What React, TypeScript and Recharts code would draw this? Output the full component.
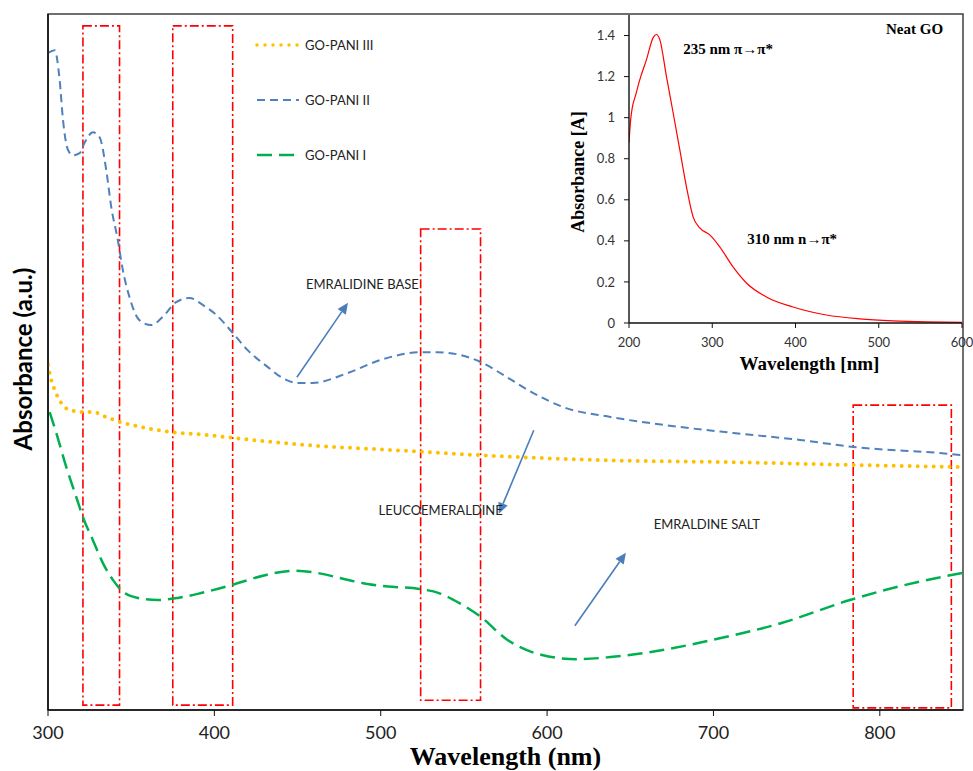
import React from "react";
import {
  LineChart,
  Line,
  XAxis,
  YAxis,
  ReferenceArea,
  ReferenceLine,
  ReferenceDot,
  Legend,
} from "recharts";

// GO-PANI II (blue dashed)
const pani2Nm = [300, 304, 307, 309, 312, 315, 319, 322, 327, 331, 335, 338, 342, 345, 349, 355, 362, 369, 377, 385, 393, 401, 411, 420, 432, 441, 450, 459, 480, 500, 524, 534, 548, 560, 576, 592, 610, 638, 672, 712, 752, 784, 842, 850];
const pani2Abs = [0.944, 0.948, 0.905, 0.848, 0.805, 0.797, 0.8, 0.815, 0.83, 0.823, 0.776, 0.723, 0.675, 0.632, 0.593, 0.56, 0.553, 0.565, 0.586, 0.592, 0.582, 0.568, 0.542, 0.517, 0.493, 0.477, 0.47, 0.47, 0.484, 0.503, 0.514, 0.514, 0.51, 0.5, 0.478, 0.455, 0.435, 0.421, 0.409, 0.398, 0.388, 0.378, 0.368, 0.366];

// GO-PANI III (yellow dotted)
const pani3Nm = [300, 302, 304, 308, 312, 321, 327, 335, 343, 355, 375, 396, 411, 435, 465, 495, 525, 560, 632, 712, 784, 850];
const pani3Abs = [0.496, 0.474, 0.46, 0.441, 0.432, 0.428, 0.428, 0.421, 0.414, 0.407, 0.399, 0.395, 0.391, 0.385, 0.379, 0.375, 0.371, 0.366, 0.359, 0.356, 0.352, 0.349];

// GO-PANI I (green long dash)
const pani1Nm = [301, 305, 311, 317, 321, 327, 333, 339, 345, 354, 366, 378, 392, 411, 431, 447, 459, 475, 492, 507, 523, 535, 547, 560, 576, 597, 618, 638, 659, 700, 741, 782, 823, 850];
const pani1Abs = [0.428, 0.398, 0.349, 0.306, 0.277, 0.244, 0.211, 0.187, 0.17, 0.161, 0.158, 0.161, 0.168, 0.18, 0.194, 0.2, 0.198, 0.19, 0.181, 0.177, 0.174, 0.168, 0.154, 0.134, 0.101, 0.079, 0.073, 0.076, 0.082, 0.101, 0.125, 0.158, 0.184, 0.197];

// Neat GO (inset)
const goNm = [200, 202, 204, 208, 213, 221, 229, 233, 237, 245, 253, 261, 269, 277, 285, 297, 309, 325, 341, 365, 397, 437, 477, 517, 558, 600];
const goAbs = [0.878, 0.99, 1.05, 1.11, 1.185, 1.283, 1.39, 1.405, 1.38, 1.2, 1.024, 0.844, 0.663, 0.517, 0.463, 0.429, 0.371, 0.273, 0.195, 0.127, 0.078, 0.039, 0.02, 0.01, 0.005, 0.003];

const mainTicks = [300, 400, 500, 600, 700, 800];
const mainMinorTicks = Array.from({ length: 28 }, (_, i) => 300 + i * 20);
const insetXTicks = [200, 300, 400, 500, 600];
const insetXMinor = Array.from({ length: 21 }, (_, i) => 200 + i * 20);
const insetYTicks = [0, 0.2, 0.4, 0.6, 0.8, 1, 1.2, 1.4];
const insetYMinor = Array.from({ length: 31 }, (_, i) => Math.round(i * 5) / 100);

// highlighted regions [nmFrom, nmTo, absFrom, absTo]
const boxes = [
  [321, 343, 0.007, 0.983],
  [375, 411, 0.007, 0.983],
  [524, 560, 0.014, 0.691],
  [784, 843, 0.003, 0.438],
];

// arrows [fromNm, fromAbs, toNm, toAbs]
const arrows = [
  [449.6, 0.478, 480.3, 0.585],
  [592, 0.402, 571, 0.282],
  [616.7, 0.121, 647.4, 0.226],
];

const notes = [
  { text: "EMRALIDINE BASE", nm: 489, abs: 0.612 },
  { text: "LEUCOEMERALDINE", nm: 536, abs: 0.287 },
  { text: "EMRALDINE SALT", nm: 696, abs: 0.267 },
];

const insetNotes = [
  { text: "Neat GO", nm: 543, abs: 1.434 },
  { text: "235 nm \u03c0\u2192\u03c0*", nm: 319, abs: 1.337 },
  { text: "310 nm n\u2192\u03c0*", nm: 396, abs: 0.41 },
];

const zip = (xs: number[], ys: number[]) => xs.map((nm, i) => ({ nm, abs: ys[i] }));
const pani1 = zip(pani1Nm, pani1Abs);
const pani2 = zip(pani2Nm, pani2Abs);
const pani3 = zip(pani3Nm, pani3Abs);
const neatGo = zip(goNm, goAbs);

const series = [
  { name: "GO-PANI III", data: pani3, color: "#FFC000", width: 4, dash: "0 8", cap: "round" },
  { name: "GO-PANI II", data: pani2, color: "#4F81BD", width: 2, dash: "8 5", cap: "butt" },
  { name: "GO-PANI I", data: pani1, color: "#00B050", width: 2.5, dash: "15 7", cap: "butt" },
];

const sans = "Lato, 'Open Sans', sans-serif";
const narrow = "'Liberation Sans Narrow', Lato, sans-serif";
const serif = "'Liberation Serif', 'DejaVu Serif', serif";

const Arrow = (props: any) => {
  const { x1, y1, x2, y2 } = props;
  const a = Math.atan2(y2 - y1, x2 - x1);
  const len = 11;
  const half = 5;
  const bx = x2 - len * Math.cos(a);
  const by = y2 - len * Math.sin(a);
  const px = -Math.sin(a) * half;
  const py = Math.cos(a) * half;
  return (
    <g>
      <line x1={x1} y1={y1} x2={bx} y2={by} stroke="#4A7EBB" strokeWidth={1.6} />
      <polygon points={`${x2},${y2} ${bx + px},${by + py} ${bx - px},${by - py}`} fill="#4A7EBB" />
    </g>
  );
};

const LegendBox = () => (
  <div style={{ fontFamily: sans, fontSize: 13, color: "#222" }}>
    {series.map((s) => (
      <div key={s.name} style={{ height: 55, display: "flex", alignItems: "center" }}>
        <svg width={51} height={10} style={{ display: "block" }}>
          <line x1={3} y1={5} x2={45} y2={5} stroke={s.color} strokeWidth={s.width === 4 ? 3.5 : s.width}
            strokeDasharray={s.dash} strokeLinecap={s.cap as any} />
        </svg>
        <span>{s.name}</span>
      </div>
    ))}
  </div>
);

const MainChart = () => (
  <LineChart width={973} height={771} margin={{ top: 14, right: 10, bottom: 0, left: 0 }}>
    <XAxis xAxisId="major" type="number" dataKey="nm" domain={[300, 850]} ticks={mainTicks} allowDataOverflow
      height={61} tickSize={6} tickMargin={10} axisLine={{ stroke: "#111", strokeWidth: 1.6 }} tickLine={{ stroke: "#111" }}
      tick={{ fontSize: 18, fill: "#222", fontFamily: narrow }}
      label={{
        content: (p: any) => {
          const vb = p.viewBox || { x: 48, y: 710, width: 915 };
          return (
            <text x={vb.x + vb.width / 2} y={vb.y + 55} textAnchor="middle" fontFamily={serif} fontWeight="bold" fontSize={26} fill="#000">
              Wavelength (nm)
            </text>
          );
        },
      }}
    />
    <XAxis xAxisId="minor" type="number" dataKey="nm" domain={[300, 850]} ticks={mainMinorTicks} allowDataOverflow
      height={1} mirror tickSize={4} tick={false} axisLine={false} tickLine={{ stroke: "#111" }} />
    <YAxis yAxisId="main" type="number" domain={[0, 1]} width={48} tick={false} tickLine={false}
      axisLine={{ stroke: "#111", strokeWidth: 1.6 }}
      label={{
        content: (p: any) => {
          const vb = p.viewBox || { x: 0, y: 14, width: 48, height: 696 };
          const cx = vb.x + vb.width - 26;
          const cy = vb.y + vb.height / 2 - 3;
          return (
            <text x={cx} y={cy} transform={`rotate(-90 ${cx} ${cy})`} textAnchor="middle" dominantBaseline="central"
              fontFamily={sans} fontWeight="bold" fontSize={24} fill="#000">
              Absorbance (a.u.)
            </text>
          );
        },
      }}
    />
    <ReferenceArea xAxisId="major" yAxisId="main" x1={300} x2={850} y1={0} y2={1} fill="none" stroke="#404040" strokeWidth={1.5} />
    {series.map((s) => (
      <Line key={s.name} xAxisId="major" yAxisId="main" data={s.data} dataKey="abs" name={s.name} type="monotone"
        stroke={s.color} strokeWidth={s.width} strokeDasharray={s.dash} strokeLinecap={s.cap as any}
        dot={false} activeDot={false} isAnimationActive={false} />
    ))}
    {boxes.map((b, i) => (
      <ReferenceArea key={`box${i}`} xAxisId="major" yAxisId="main" x1={b[0]} x2={b[1]} y1={b[2]} y2={b[3]}
        fill="none" stroke="#FF0000" strokeWidth={1.6} strokeDasharray="9 3 2 3" ifOverflow="visible" />
    ))}
    {arrows.map((a, i) => (
      <ReferenceLine key={`arr${i}`} xAxisId="major" yAxisId="main" segment={[{ x: a[0], y: a[1] }, { x: a[2], y: a[3] }]}
        shape={Arrow} ifOverflow="visible" />
    ))}
    {notes.map((n) => (
      <ReferenceDot key={n.text} xAxisId="major" yAxisId="main" x={n.nm} y={n.abs} r={0} fill="none" stroke="none"
        label={{ value: n.text, position: "center", fontSize: 13, fill: "#222", fontFamily: sans }} />
    ))}
    <Legend layout="vertical" align="center" verticalAlign="middle" content={<LegendBox />}
      wrapperStyle={{ left: 254, top: 17, width: 160, height: 165 }} />
  </LineChart>
);

const InsetChart = () => (
  <LineChart width={413} height={390} margin={{ top: 15, right: 11, bottom: 0, left: 0 }}>
    <XAxis type="number" dataKey="nm" domain={[200, 600]} ticks={insetXTicks} allowDataOverflow height={67}
      tickSize={5} tickMargin={10} axisLine={{ stroke: "#111", strokeWidth: 1.4 }} tickLine={{ stroke: "#111" }}
      tick={{ fontSize: 13, fill: "#333", fontFamily: sans }}
      label={{
        content: (p: any) => {
          const vb = p.viewBox || { x: 69, y: 323, width: 333 };
          return (
            <text x={vb.x + vb.width / 2 + 14} y={vb.y + 47} textAnchor="middle" fontFamily={serif} fontWeight="bold" fontSize={19} fill="#000">
              Wavelength [nm]
            </text>
          );
        },
      }}
    />
    <XAxis xAxisId="minor" type="number" dataKey="nm" domain={[200, 600]} ticks={insetXMinor} allowDataOverflow
      height={1} mirror tickSize={4} tick={false} axisLine={false} tickLine={{ stroke: "#111" }} />
    <YAxis type="number" domain={[0, 1.5]} ticks={insetYTicks} width={69} tickSize={5} tickMargin={9}
      axisLine={{ stroke: "#111", strokeWidth: 1.4 }} tickLine={{ stroke: "#111" }}
      tick={{ fontSize: 13, fill: "#333", fontFamily: sans }}
      label={{
        content: (p: any) => {
          const vb = p.viewBox || { x: 0, y: 15, width: 69, height: 308 };
          const cx = vb.x + vb.width - 51;
          const cy = vb.y + vb.height / 2 + 3;
          return (
            <text x={cx} y={cy} transform={`rotate(-90 ${cx} ${cy})`} textAnchor="middle" dominantBaseline="central"
              fontFamily={serif} fontWeight="bold" fontSize={18} fill="#000">
              Absorbance [A]
            </text>
          );
        },
      }}
    />
    <YAxis yAxisId="minor" type="number" domain={[0, 1.5]} ticks={insetYMinor} width={1} mirror tickSize={4}
      tick={false} axisLine={false} tickLine={{ stroke: "#111" }} />
    <Line data={neatGo} dataKey="abs" type="monotone" stroke="#FF0000" strokeWidth={1.2} dot={false} activeDot={false}
      isAnimationActive={false} />
    {insetNotes.map((n) => (
      <ReferenceDot key={n.text} x={n.nm} y={n.abs} r={0} fill="none" stroke="none"
        label={{ value: n.text, position: "center", fontSize: 15, fontWeight: "bold", fill: "#000", fontFamily: serif }} />
    ))}
  </LineChart>
);

export default function App() {
  return (
    <div style={{ position: "absolute", left: 0, top: 0, width: 973, height: 771, background: "#fff" }}>
      <MainChart />
      <div style={{ position: "absolute", left: 560, top: 0 }}>
        <InsetChart />
      </div>
    </div>
  );
}
